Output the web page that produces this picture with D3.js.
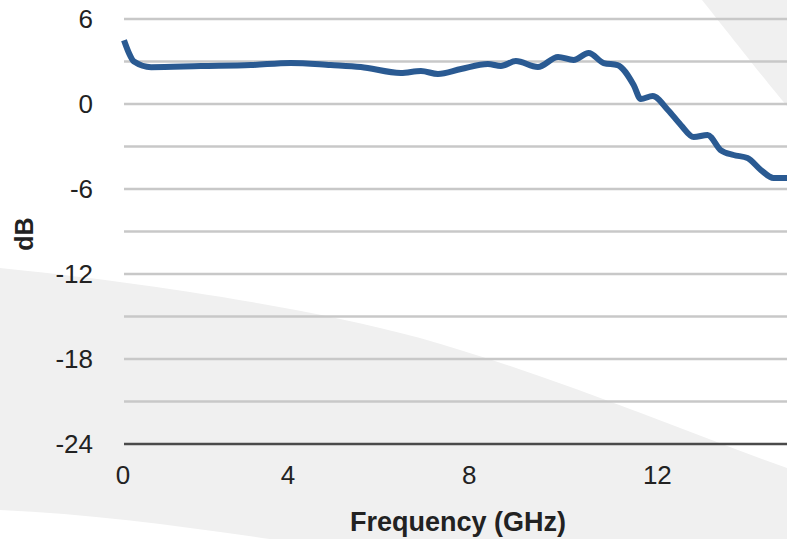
<!DOCTYPE html>
<html>
<head>
<meta charset="utf-8">
<script src="https://cdn.jsdelivr.net/npm/d3@7"></script>
<style>
  body { margin: 0; background: #ffffff; }
  svg { display: block; }
  text { font-family: "Liberation Sans", Arial, Helvetica, sans-serif; fill: #222; }
</style>
</head>
<body>
<svg></svg>
<script>
// Frequency response.
var freqGHz = [0, 0.15, 0.29, 0.74, 1.96, 3.13, 4.04, 4.94, 5.61, 6.49, 6.93, 7.30, 7.80, 8.38, 8.66, 8.98,
  9.45, 9.88, 10.21, 10.53, 10.85, 11.14, 11.48, 11.63, 11.88, 12.20, 12.47, 12.74, 13.03, 13.30,
  13.57, 13.86, 14.14, 14.40, 14.69, 15.0];
var gainDb = [4.5, 3.6, 3.0, 2.6, 2.68, 2.75, 2.9, 2.75, 2.61, 2.19, 2.33, 2.12, 2.47, 2.82, 2.68, 3.03,
  2.61, 3.32, 3.11, 3.6, 2.89, 2.75, 1.34, 0.35, 0.56, -0.42, -1.48, -2.33, -2.19, -3.25,
  -3.6, -3.81, -4.66, -5.22, -5.22, -5.3];

var yTicks = [-24, -18, -12, -6, 0, 6];
var yGrid = [-21, -15, -9, -3, 3, 6, 0, -6, -12, -18];
var xTicks = [0, 4, 8, 12];

window.onload = function(){

  var width = 787, height = 539;
  var svg = d3.select("svg")
    .attr("width", width)
    .attr("height", height);

  // Scales. The x axis is slightly stretched toward the right in the original.
  var x = d3.scalePow().exponent(1.07).domain([0, 16]).range([124, 851]);
  var y = d3.scaleLinear().domain([-24, 6]).range([444, 19]);

  // Grey page shading behind the chart.
  svg.append("path")
    .attr("d", "M0,268 C120,280 300,305 420,338 C560,378 680,430 787,468 L787,539 L270,539 C180,526 90,514 0,510 Z")
    .attr("fill", "#f0f0f0");
  svg.append("path")
    .attr("d", "M702,0 L787,0 L787,106 C770,86 748,58 702,0 Z")
    .attr("fill", "#f0f0f0");

  // Horizontal grid lines.
  svg.selectAll("line.grid")
    .data(yGrid)
    .enter()
    .append("line")
    .attr("class", "grid")
    .attr("x1", x(0))
    .attr("x2", width)
    .attr("y1", function(d){ return y(d); })
    .attr("y2", function(d){ return y(d); })
    .style("stroke", "#c8c8c8")
    .attr("stroke-width", 2.5);

  // Baseline at the bottom.
  svg.append("line")
    .attr("x1", x(0))
    .attr("x2", width)
    .attr("y1", y(-24))
    .attr("y2", y(-24))
    .style("stroke", "#4a4a4a")
    .attr("stroke-width", 2.5);

  // Tick labels.
  svg.selectAll("text.ytick")
    .data(yTicks)
    .enter()
    .append("text")
    .attr("class", "ytick")
    .attr("x", 93)
    .attr("y", function(d){ return y(d); })
    .attr("dy", "0.35em")
    .attr("text-anchor", "end")
    .style("font-size", "26px")
    .text(function(d){ return d; });

  svg.selectAll("text.xtick")
    .data(xTicks)
    .enter()
    .append("text")
    .attr("class", "xtick")
    .attr("x", function(d){ return x(d) - 1; })
    .attr("y", 484)
    .attr("text-anchor", "middle")
    .style("font-size", "26px")
    .text(function(d){ return d; });

  // Axis titles.
  svg.append("text")
    .attr("x", 458)
    .attr("y", 531)
    .attr("text-anchor", "middle")
    .style("font-size", "27px")
    .style("font-weight", "bold")
    .text("Frequency (GHz)");

  svg.append("text")
    .attr("transform", "translate(33,234) rotate(-90)")
    .attr("text-anchor", "middle")
    .style("font-size", "25px")
    .style("font-weight", "bold")
    .text("dB");

  // Clip so the curve stops at the plot edges.
  svg.append("defs").append("clipPath")
    .attr("id", "plot")
    .append("rect")
    .attr("x", x(0) - 4)
    .attr("y", 0)
    .attr("width", width)
    .attr("height", height);

  var points = freqGHz.map(function(f, i){ return [f, gainDb[i]]; });
  var line = d3.line()
    .x(function(d){ return x(d[0]); })
    .y(function(d){ return y(d[1]); })
    .curve(d3.curveMonotoneX);

  svg.append("path")
    .datum(points)
    .attr("clip-path", "url(#plot)")
    .attr("d", line)
    .attr("fill", "none")
    .style("stroke", "#2a5a92")
    .attr("stroke-width", 6)
    .attr("stroke-linejoin", "round");
};
</script>
</body>
</html>
